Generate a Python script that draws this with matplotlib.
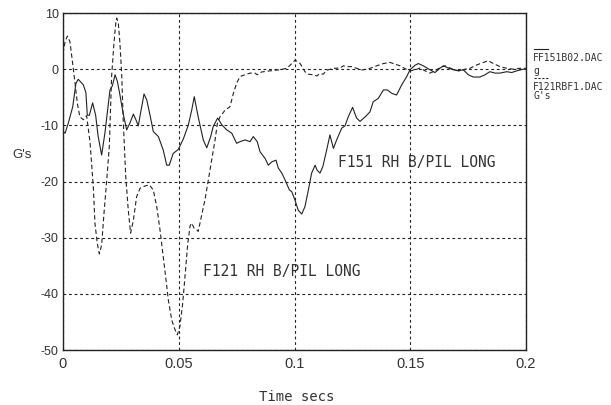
import matplotlib
matplotlib.use("Agg")
import matplotlib.pyplot as plt
from matplotlib.lines import Line2D

# F151 RH B/PIL LONG (solid) - time in s, accel in G
t_f151 = [0.000, 0.0009, 0.0023, 0.0042, 0.0056, 0.0066, 0.0088, 0.0099, 0.0105, 0.0114,
          0.0128, 0.0141, 0.0152, 0.0167, 0.0181, 0.0191, 0.0203, 0.0213, 0.0225, 0.0235,
          0.0246, 0.0260, 0.0275, 0.0289, 0.0304, 0.0318, 0.0325, 0.0340, 0.0350, 0.0362,
          0.0376, 0.0390, 0.0412, 0.0433, 0.0448, 0.0459, 0.0476, 0.0498, 0.0520, 0.0541,
          0.0556, 0.0567, 0.0584, 0.0606, 0.0621, 0.0638, 0.0649, 0.0668, 0.0686, 0.0707,
          0.0729, 0.0750, 0.0765, 0.0786, 0.0808, 0.0822, 0.0839, 0.0851, 0.0873, 0.0887,
          0.0902, 0.0920, 0.0930, 0.0945, 0.0959, 0.0978, 0.0988, 0.1002, 0.1016, 0.1031,
          0.1045, 0.1060, 0.1074, 0.1089, 0.1098, 0.1110, 0.1122, 0.1139, 0.1153, 0.1168,
          0.1182, 0.1204, 0.1218, 0.1232, 0.1251, 0.1268, 0.1283, 0.1305, 0.1326, 0.1340,
          0.1362, 0.1384, 0.1401, 0.1420, 0.1441, 0.1463, 0.1485, 0.1499, 0.1521, 0.1535,
          0.1556, 0.1585, 0.1607, 0.1629, 0.1643, 0.1664, 0.1686, 0.1708, 0.1729, 0.1751,
          0.1772, 0.1801, 0.1823, 0.1844, 0.1866, 0.1888, 0.1917, 0.1938, 0.1960, 0.1988,
          0.2000]
g_f151 = [-11.1, -11.4, -9.6, -6.7, -2.5, -1.8, -2.8, -4.2, -8.2, -8.2,
          -6.0, -8.2, -12.0, -15.3, -11.4, -7.9, -3.7, -3.0, -1.0, -2.2,
          -4.6, -7.9, -10.8, -9.6, -8.0, -9.3, -10.1, -6.7, -4.4, -5.5,
          -8.2, -11.1, -12.0, -14.4, -17.1, -17.1, -15.0, -14.3, -12.4, -10.0,
          -7.3, -4.9, -8.5, -12.6, -14.0, -12.0, -10.2, -8.7, -9.9, -10.8,
          -11.4, -13.2, -12.9, -12.6, -12.9, -12.0, -12.9, -14.7, -15.9, -17.1,
          -16.5, -16.2, -17.6, -18.5, -19.7, -21.5, -21.8, -23.3, -25.1, -25.8,
          -24.5, -21.5, -18.5, -17.1, -18.0, -18.5, -17.4, -14.4, -11.7, -14.1,
          -12.6, -10.5, -10.1, -8.5, -6.8, -8.7, -9.3, -8.5, -7.6, -5.8,
          -5.2, -3.7, -3.7, -4.3, -4.6, -2.8, -1.3, -0.1, 0.7, 1.0,
          0.6, -0.1, -0.6, 0.2, 0.6, 0.2, -0.1, -0.3, -0.1, -1.0,
          -1.4, -1.4, -1.0, -0.45, -0.7, -0.7, -0.45, -0.6, -0.3, 0.0,
          0.0]

# F121 RH B/PIL LONG (dashed)
t_f121 = [0.000, 0.0009, 0.0019, 0.0030, 0.0040, 0.0052, 0.0062, 0.0073, 0.0088, 0.0102,
          0.0109, 0.0117, 0.0131, 0.0138, 0.0148, 0.0157, 0.0167, 0.0177, 0.0189, 0.0200,
          0.0210, 0.0220, 0.0228, 0.0232, 0.0239, 0.0246, 0.0254, 0.0260, 0.0271, 0.0282,
          0.0292, 0.0304, 0.0318, 0.0333, 0.0354, 0.0373, 0.0390, 0.0405, 0.0419, 0.0433,
          0.0445, 0.0455, 0.0470, 0.0484, 0.0494, 0.0505, 0.0517, 0.0527, 0.0539, 0.0549,
          0.0556, 0.0566, 0.0578, 0.0584, 0.0599, 0.0613, 0.0628, 0.0642, 0.0657, 0.0667,
          0.0678, 0.0700, 0.0721, 0.0736, 0.0750, 0.0765, 0.0786, 0.0808, 0.0829, 0.0839,
          0.0858, 0.0894, 0.0937, 0.0966, 0.0981, 0.1002, 0.1016, 0.1024, 0.1038, 0.1045,
          0.1060, 0.1081, 0.1096, 0.1110, 0.1124, 0.1139, 0.1168, 0.1197, 0.1211, 0.1225,
          0.1247, 0.1268, 0.1290, 0.1312, 0.1326, 0.1355, 0.1384, 0.1413, 0.1434, 0.1456,
          0.1477, 0.1499, 0.1520, 0.1542, 0.1564, 0.1585, 0.1607, 0.1629, 0.1650, 0.1672,
          0.1693, 0.1715, 0.1737, 0.1758, 0.1787, 0.1816, 0.1837, 0.1859, 0.1888, 0.1917,
          0.1945, 0.1974, 0.2000]
g_f121 = [2.8, 4.9, 5.9, 4.9, 1.6, -2.5, -6.1, -8.5, -9.0, -8.3,
          -10.5, -13.1, -21.0, -27.4, -31.0, -32.9, -31.3, -25.7, -19.7, -13.8,
          -1.3, 4.6, 8.2, 9.1, 8.2, 4.6, -1.3, -9.0, -19.1, -25.1,
          -29.2, -26.9, -22.7, -21.2, -20.8, -20.6, -21.5, -24.5, -28.6, -33.4,
          -37.5, -41.1, -44.7, -46.4, -47.3, -45.8, -41.7, -36.9, -31.0, -27.9,
          -27.4, -28.3, -28.6, -28.9, -26.0, -23.3, -19.7, -16.2, -12.6, -9.6,
          -8.5, -7.3, -6.7, -4.3, -2.5, -1.3, -1.0, -0.7, -0.7, -1.0,
          -0.5, -0.3, -0.1, 0.15, 0.7, 1.6, 1.3, 1.0, 0.1, -0.45,
          -0.9, -1.0, -1.2, -0.8, -0.9, -0.2, 0.15, 0.2, 0.6, 0.45,
          0.45, 0.15, -0.15, 0.0, 0.15, 0.6, 1.0, 1.2, 0.9, 0.6,
          0.1, -0.3, -0.15, 0.2, -0.3, -0.7, -0.3, 0.3, 0.6, 0.2,
          -0.15, -0.3, 0.0, 0.15, 0.75, 1.2, 1.5, 1.0, 0.45, 0.15,
          0.0, 0.15, 0.15]

x_ticks = [0, 0.05, 0.1, 0.15, 0.2]
x_labels = ["0", "0.05", "0.1", "0.15", "0.2"]
y_ticks = [10, 0, -10, -20, -30, -40, -50]
y_labels = ["10", "0", "-10", "-20", "-30", "-40", "-50"]

fig = plt.figure(figsize=(6.11, 4.05), dpi=100)
fig.patch.set_facecolor("white")
ax = fig.add_axes([0.1031, 0.1358, 0.7578, 0.8321])

ax.plot(t_f151, g_f151, color="#222222", linewidth=0.8)
ax.plot(t_f121, g_f121, color="#222222", linewidth=0.8, linestyle=(0, (4, 2.5)))

ax.set_xlim(0, 0.2)
ax.set_ylim(-50, 10)
ax.set_xticks(x_ticks)
ax.set_xticklabels(x_labels, fontsize=10.5, family="Liberation Sans", color="#333333")
ax.set_yticks(y_ticks)
ax.set_yticklabels(y_labels, fontsize=9, family="Liberation Sans", color="#333333")
ax.tick_params(axis="x", length=0, pad=5)
ax.tick_params(axis="y", length=0, pad=3)
ax.grid(color="#222222", linewidth=0.8, linestyle=(0, (2.5, 2.5)))
for s in ax.spines.values():
    s.set_color("#222222")
    s.set_linewidth(1.0)

ax.text(0.1188, -16.7, "F151 RH B/PIL LONG", fontsize=10.5, family="DejaVu Sans Mono",
        color="#333333", ha="left", va="center")
ax.text(0.0605, -36.1, "F121 RH B/PIL LONG", fontsize=10.5, family="DejaVu Sans Mono",
        color="#333333", ha="left", va="center")

fig.text(22 / 611, 1 - 155 / 405, "G's", fontsize=9.5, family="Liberation Sans",
         color="#333333", ha="center", va="center")
fig.text(297 / 611, 1 - 397 / 405, "Time secs", fontsize=10, family="DejaVu Sans Mono",
         color="#333333", ha="center", va="center")

# legend block on the right
fig.add_artist(Line2D([534 / 611, 548 / 611], [1 - 49 / 405, 1 - 49 / 405],
                      color="#222222", linewidth=0.8))
fig.add_artist(Line2D([534 / 611, 548 / 611], [1 - 78 / 405, 1 - 78 / 405],
                      color="#222222", linewidth=0.8, linestyle=(0, (2, 1.5))))
leg_kw = dict(fontsize=7, family="DejaVu Sans Mono", color="#333333", ha="left", va="center")
fig.text(533 / 611, 1 - 58 / 405, "FF151B02.DAC", **leg_kw)
fig.text(533 / 611, 1 - 71 / 405, "g", **leg_kw)
fig.text(533 / 611, 1 - 87 / 405, "F121RBF1.DAC", **leg_kw)
fig.text(533 / 611, 1 - 96 / 405, "G's", **leg_kw)

fig.savefig("out.png", dpi=100, facecolor=fig.get_facecolor())
